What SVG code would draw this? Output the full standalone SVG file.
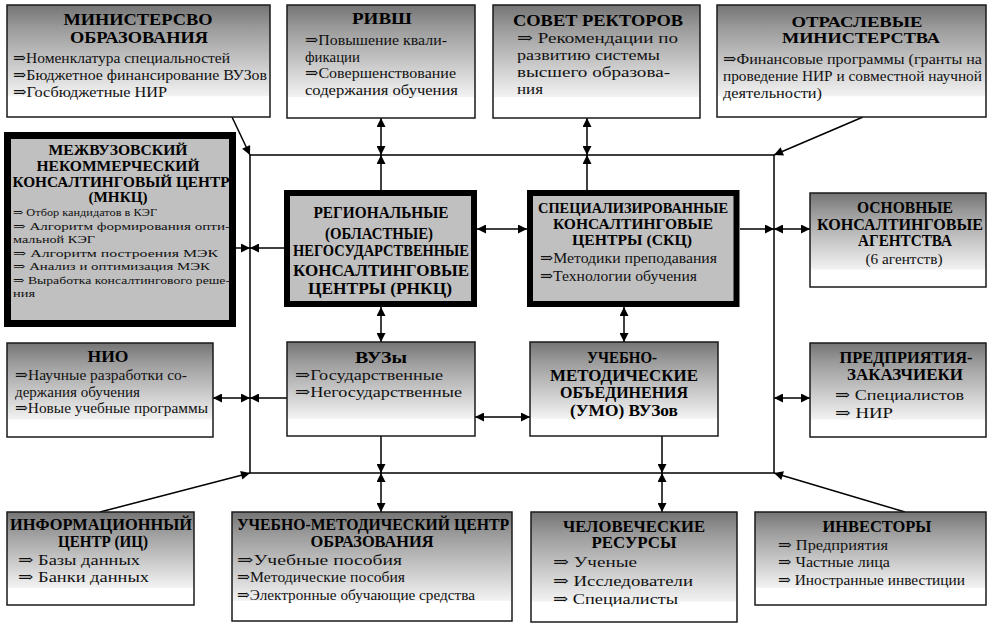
<svg xmlns="http://www.w3.org/2000/svg" width="991" height="624" viewBox="0 0 991 624" font-family="Liberation Serif, DejaVu Serif, serif">
<defs>
<linearGradient id="g" x1="0" y1="0" x2="0" y2="1">
<stop offset="0" stop-color="#747474"/>
<stop offset="0.2" stop-color="#9a9a9a"/>
<stop offset="0.81" stop-color="#f2f2f2"/>
<stop offset="0.82" stop-color="#ffffff"/>
<stop offset="1" stop-color="#ffffff"/>
</linearGradient>
<marker id="ah" viewBox="0 0 10 10" refX="10" refY="5" markerWidth="11" markerHeight="9" orient="auto-start-reverse" markerUnits="userSpaceOnUse">
<path d="M0,0 L10,5 L0,10 z" fill="#000"/>
</marker>
<style>
.box{fill:url(#g);stroke:#1a1a1a;stroke-width:1.5}
.tbox{fill:#c0c0c0;stroke:#000}
.t{font-weight:bold;font-size:16px;fill:#000;text-anchor:middle}
.tt{font-size:14px}
.b{font-size:15px;fill:#111}
.s{font-size:11px;fill:#111}
.c line,.c polyline{stroke:#000;stroke-width:1.5;fill:none}
.d2{marker-start:url(#ah);marker-end:url(#ah)}
.d1{marker-end:url(#ah)}
</style>
</defs>
<rect width="991" height="624" fill="#fff"/>

<g id="connectors" class="c">
<polyline points="250,155 774,155 774,473 250,473 250,155"/>
<line class="d1" x1="232" y1="117" x2="250" y2="155"/>
<line class="d2" x1="381" y1="118" x2="381" y2="155"/>
<line class="d1" x1="381" y1="190" x2="381" y2="155"/>
<line class="d2" x1="587" y1="118" x2="587" y2="155"/>
<line class="d1" x1="587" y1="190" x2="587" y2="155"/>
<line class="d1" x1="863" y1="117" x2="774" y2="155"/>
<line class="d1" x1="236" y1="248" x2="250" y2="248"/>
<line class="d1" x1="284" y1="248" x2="250" y2="248"/>
<line class="d2" x1="477" y1="229" x2="527" y2="229"/>
<line class="d1" x1="740" y1="229" x2="774" y2="229"/>
<line class="d2" x1="774" y1="229" x2="810" y2="229"/>
<line class="d2" x1="381" y1="307" x2="381" y2="342"/>
<line class="d2" x1="624" y1="307" x2="624" y2="342"/>
<line class="d2" x1="213" y1="398" x2="250" y2="398"/>
<line class="d1" x1="287" y1="398" x2="250" y2="398"/>
<line class="d2" x1="475" y1="417" x2="530" y2="417"/>
<line class="d2" x1="774" y1="398" x2="810" y2="398"/>
<line class="d1" x1="381" y1="436" x2="381" y2="473"/>
<line class="d2" x1="381" y1="473" x2="381" y2="512"/>
<line class="d1" x1="662" y1="436" x2="662" y2="473"/>
<line class="d2" x1="662" y1="473" x2="662" y2="512"/>
<line class="d1" x1="100" y1="512" x2="250" y2="473"/>
<line class="d1" x1="905" y1="512" x2="774" y2="473"/>
</g>

<g id="minobr">
<rect class="box" x="7" y="5" width="263" height="112"/>
<text class="t" x="138" y="25" textLength="149" lengthAdjust="spacingAndGlyphs">МИНИСТЕРСВО</text>
<text class="t" x="139" y="43" textLength="138" lengthAdjust="spacingAndGlyphs">ОБРАЗОВАНИЯ</text>
<text class="b" x="13" y="63" textLength="217" lengthAdjust="spacingAndGlyphs">⇒Номенклатура специальностей</text>
<text class="b" x="13" y="80" textLength="254" lengthAdjust="spacingAndGlyphs">⇒Бюджетное финансирование  ВУЗов</text>
<text class="b" x="13" y="97" textLength="154" lengthAdjust="spacingAndGlyphs">⇒Госбюджетные НИР</text>
</g>

<g id="rivsh">
<rect class="box" x="287" y="5" width="188" height="113"/>
<text class="t" x="382" y="24" textLength="60" lengthAdjust="spacingAndGlyphs">РИВШ</text>
<text class="b" x="305" y="45" textLength="142" lengthAdjust="spacingAndGlyphs">⇒Повышение квали-</text>
<text class="b" x="305" y="62" textLength="55" lengthAdjust="spacingAndGlyphs">фикации</text>
<text class="b" x="305" y="78" textLength="151" lengthAdjust="spacingAndGlyphs">⇒Совершенствование</text>
<text class="b" x="305" y="95" textLength="153" lengthAdjust="spacingAndGlyphs">содержания обучения</text>
</g>

<g id="sovet">
<rect class="box" x="493" y="5" width="207" height="113"/>
<text class="t" x="598" y="26" textLength="170" lengthAdjust="spacingAndGlyphs">СОВЕТ РЕКТОРОВ</text>
<text class="b" x="517" y="43" textLength="161" lengthAdjust="spacingAndGlyphs">⇒ Рекомендации по</text>
<text class="b" x="517" y="60" textLength="143" lengthAdjust="spacingAndGlyphs">развитию системы</text>
<text class="b" x="517" y="77" textLength="153" lengthAdjust="spacingAndGlyphs">высшего образова-</text>
<text class="b" x="517" y="94" textLength="26" lengthAdjust="spacingAndGlyphs">ния</text>
</g>

<g id="otrasl">
<rect class="box" x="717" y="5" width="269" height="112"/>
<text class="t tt" x="857" y="27" textLength="131" lengthAdjust="spacingAndGlyphs">ОТРАСЛЕВЫЕ</text>
<text class="t tt" x="861" y="43" textLength="158" lengthAdjust="spacingAndGlyphs">МИНИСТЕРСТВА</text>
<text class="b" x="723" y="64" textLength="259" lengthAdjust="spacingAndGlyphs">⇒Финансовые программы (гранты на</text>
<text class="b" x="723" y="81" textLength="259" lengthAdjust="spacingAndGlyphs">проведение НИР и совместной научной</text>
<text class="b" x="723" y="98" textLength="99" lengthAdjust="spacingAndGlyphs">деятельности)</text>
</g>

<g id="mnkc">
<rect class="tbox" x="7.5" y="135.5" width="225" height="188" stroke-width="7"/>
<text class="t tt" x="118" y="155" textLength="139" lengthAdjust="spacingAndGlyphs">МЕЖВУЗОВСКИЙ</text>
<text class="t tt" x="118" y="171" textLength="163" lengthAdjust="spacingAndGlyphs">НЕКОММЕРЧЕСКИЙ</text>
<text class="t tt" x="121" y="187" textLength="217" lengthAdjust="spacingAndGlyphs">КОНСАЛТИНГОВЫЙ ЦЕНТР</text>
<text class="t tt" x="118" y="202" textLength="59" lengthAdjust="spacingAndGlyphs">(МНКЦ)</text>
<text class="s" x="13" y="216" textLength="144" lengthAdjust="spacingAndGlyphs">⇒ Отбор кандидатов в  КЭГ</text>
<text class="s" x="13" y="229.5" textLength="217" lengthAdjust="spacingAndGlyphs">⇒ Алгоритм формирования  опти-</text>
<text class="s" x="13" y="243" textLength="82" lengthAdjust="spacingAndGlyphs">мальной КЭГ</text>
<text class="s" x="13" y="256.5" textLength="205" lengthAdjust="spacingAndGlyphs">⇒ Алгоритм  построения  МЭК</text>
<text class="s" x="13" y="270" textLength="197" lengthAdjust="spacingAndGlyphs">⇒ Анализ и  оптимизация  МЭК</text>
<text class="s" x="13" y="283.5" textLength="217" lengthAdjust="spacingAndGlyphs">⇒ Выработка консалтингового реше-</text>
<text class="s" x="13" y="297" textLength="22" lengthAdjust="spacingAndGlyphs">ния</text>
</g>

<g id="rnkc">
<rect class="tbox" x="287" y="193" width="187" height="111" stroke-width="6"/>
<text class="t" x="381" y="218" textLength="135" lengthAdjust="spacingAndGlyphs">РЕГИОНАЛЬНЫЕ</text>
<text class="t" x="379" y="239" textLength="108" lengthAdjust="spacingAndGlyphs">(ОБЛАСТНЫЕ)</text>
<text class="t" x="381" y="256" textLength="176" lengthAdjust="spacingAndGlyphs">НЕГОСУДАРСТВЕННЫЕ</text>
<text class="t" x="381" y="276" textLength="176" lengthAdjust="spacingAndGlyphs">КОНСАЛТИНГОВЫЕ</text>
<text class="t" x="380" y="294" textLength="144" lengthAdjust="spacingAndGlyphs">ЦЕНТРЫ (РНКЦ)</text>
</g>

<g id="skc">
<rect class="tbox" x="530" y="193" width="206.5" height="111" stroke-width="6"/>
<text class="t tt" x="633" y="213" textLength="190" lengthAdjust="spacingAndGlyphs">СПЕЦИАЛИЗИРОВАННЫЕ</text>
<text class="t tt" x="633" y="229" textLength="160" lengthAdjust="spacingAndGlyphs">КОНСАЛТИНГОВЫЕ</text>
<text class="t tt" x="632" y="245" textLength="120" lengthAdjust="spacingAndGlyphs">ЦЕНТРЫ (СКЦ)</text>
<text class="b" x="540" y="263" textLength="177" lengthAdjust="spacingAndGlyphs">⇒Методики преподавания</text>
<text class="b" x="540" y="281" textLength="157" lengthAdjust="spacingAndGlyphs">⇒Технологии обучения</text>
</g>

<g id="agent">
<rect class="box" x="810" y="193" width="176" height="94"/>
<text class="t" x="905" y="213" textLength="96" lengthAdjust="spacingAndGlyphs">ОСНОВНЫЕ</text>
<text class="t" x="900" y="230" textLength="166" lengthAdjust="spacingAndGlyphs">КОНСАЛТИНГОВЫЕ</text>
<text class="t" x="905" y="246" textLength="94" lengthAdjust="spacingAndGlyphs">АГЕНТСТВА</text>
<text class="b" x="904" y="264" text-anchor="middle" textLength="77" lengthAdjust="spacingAndGlyphs">(6 агентств)</text>
</g>

<g id="predpr">
<rect class="box" x="810" y="343" width="176" height="94"/>
<text class="t" x="906" y="363" textLength="133" lengthAdjust="spacingAndGlyphs">ПРЕДПРИЯТИЯ-</text>
<text class="t" x="905" y="380" textLength="116" lengthAdjust="spacingAndGlyphs">ЗАКАЗЧИЕКИ</text>
<text class="b" x="835" y="400" textLength="129" lengthAdjust="spacingAndGlyphs">⇒ Специалистов</text>
<text class="b" x="835" y="418" textLength="58" lengthAdjust="spacingAndGlyphs">⇒ НИР</text>
</g>

<g id="nio">
<rect class="box" x="7" y="343" width="206" height="94"/>
<text class="t" x="108" y="362" textLength="41" lengthAdjust="spacingAndGlyphs">НИО</text>
<text class="b" x="15" y="380" textLength="172" lengthAdjust="spacingAndGlyphs">⇒Научные разработки со-</text>
<text class="b" x="15" y="397" textLength="125" lengthAdjust="spacingAndGlyphs">держания обучения</text>
<text class="b" x="15" y="413" textLength="193" lengthAdjust="spacingAndGlyphs">⇒Новые учебные программы</text>
</g>

<g id="vuzy">
<rect class="box" x="287" y="342" width="188" height="94"/>
<text class="t" x="381" y="363" textLength="52" lengthAdjust="spacingAndGlyphs">ВУЗы</text>
<text class="b" x="295" y="380" textLength="148" lengthAdjust="spacingAndGlyphs">⇒Государственные</text>
<text class="b" x="295" y="397" textLength="167" lengthAdjust="spacingAndGlyphs">⇒Негосударственные</text>
</g>

<g id="umo">
<rect class="box" x="530" y="342" width="188" height="94"/>
<text class="t" x="622" y="363" textLength="70" lengthAdjust="spacingAndGlyphs">УЧЕБНО-</text>
<text class="t" x="624" y="381" textLength="148" lengthAdjust="spacingAndGlyphs">МЕТОДИЧЕСКИЕ</text>
<text class="t" x="624" y="398" textLength="128" lengthAdjust="spacingAndGlyphs">ОБЪЕДИНЕНИЯ</text>
<text class="t" x="624" y="416" textLength="108" lengthAdjust="spacingAndGlyphs">(УМО) ВУЗов</text>
</g>

<g id="ic">
<rect class="box" x="7" y="512" width="187" height="93"/>
<text class="t" x="101" y="530" textLength="182" lengthAdjust="spacingAndGlyphs">ИНФОРМАЦИОННЫЙ</text>
<text class="t" x="103" y="547" textLength="90" lengthAdjust="spacingAndGlyphs">ЦЕНТР (ИЦ)</text>
<text class="b" x="18" y="565" textLength="122" lengthAdjust="spacingAndGlyphs">⇒ Базы данных</text>
<text class="b" x="18" y="582" textLength="131" lengthAdjust="spacingAndGlyphs">⇒ Банки данных</text>
</g>

<g id="umc">
<rect class="box" x="232" y="512" width="280" height="109"/>
<text class="t" x="373" y="530" textLength="272" lengthAdjust="spacingAndGlyphs">УЧЕБНО-МЕТОДИЧЕСКИЙ ЦЕНТР</text>
<text class="t" x="372" y="547" textLength="123" lengthAdjust="spacingAndGlyphs">ОБРАЗОВАНИЯ</text>
<text class="b" x="237" y="565" textLength="165" lengthAdjust="spacingAndGlyphs">⇒Учебные пособия</text>
<text class="b" x="237" y="582" textLength="168" lengthAdjust="spacingAndGlyphs">⇒Методические пособия</text>
<text class="b" x="237" y="600" textLength="238" lengthAdjust="spacingAndGlyphs">⇒Электронные обучающие средства</text>
</g>

<g id="chel">
<rect class="box" x="531" y="512" width="206" height="110"/>
<text class="t" x="634" y="532" textLength="142" lengthAdjust="spacingAndGlyphs">ЧЕЛОВЕЧЕСКИЕ</text>
<text class="t" x="634" y="548" textLength="85" lengthAdjust="spacingAndGlyphs">РЕСУРСЫ</text>
<text class="b" x="553" y="567" textLength="84" lengthAdjust="spacingAndGlyphs">⇒ Ученые</text>
<text class="b" x="553" y="586" textLength="140" lengthAdjust="spacingAndGlyphs">⇒ Исследователи</text>
<text class="b" x="553" y="604" textLength="125" lengthAdjust="spacingAndGlyphs">⇒ Специалисты</text>
</g>

<g id="invest">
<rect class="box" x="755" y="512" width="231" height="93"/>
<text class="t" x="877" y="532" textLength="109" lengthAdjust="spacingAndGlyphs">ИНВЕСТОРЫ</text>
<text class="b" x="778" y="550" textLength="110" lengthAdjust="spacingAndGlyphs">⇒ Предприятия</text>
<text class="b" x="778" y="567" textLength="112" lengthAdjust="spacingAndGlyphs">⇒ Частные лица</text>
<text class="b" x="778" y="585" textLength="187" lengthAdjust="spacingAndGlyphs">⇒ Иностранные инвестиции</text>
</g>
</svg>
